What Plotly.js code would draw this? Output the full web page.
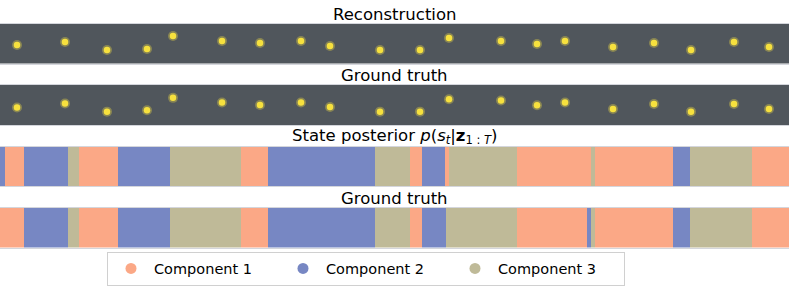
<!DOCTYPE html>
<html>
<head>
<meta charset="utf-8">
<script src="https://cdn.plot.ly/plotly-3.0.1.min.js"></script>
<style>html,body{margin:0;padding:0;background:#fff}#chart{width:789px;height:287px}</style>
</head>
<body>
<div id="chart"></div>
<script>
// ---- data ----
var componentNames = ["Component 1", "Component 2", "Component 3"];
var componentColors = ["#fba886", "#7787c3", "#bfba98"];

// ball positions along the frame strip (x) and vertical position from top (y)
var ballX = [17, 65, 107, 147, 173, 222, 260, 301, 330, 380, 420, 449, 501, 537, 565, 613, 654, 691, 734, 769];
var reconY = [21, 18, 26, 25, 12, 17, 19, 17, 22, 26, 26, 14, 17, 20, 17, 23, 19, 26, 18, 23];
var truthY = [22.3, 18.3, 26.3, 25, 12.7, 17.3, 19.7, 17.3, 21.7, 26.3, 26.3, 14, 15.3, 20, 17.3, 23.7, 18.7, 26.3, 18.7, 23.7];

// state segments: start, end, component (1..3)
var postStart = [0, 5, 24, 68, 79, 118, 170, 241, 268, 375, 410, 422, 445, 449, 517, 591, 595, 673, 690, 752];
var postEnd   = [5, 24, 68, 79, 118, 170, 241, 268, 375, 410, 422, 445, 449, 517, 591, 595, 673, 690, 752, 789];
var postState = [2, 1, 2, 3, 1, 2, 3, 1, 2, 3, 1, 2, 1, 3, 1, 3, 1, 2, 3, 1];

var truthStart = [0, 24, 68, 79, 118, 170, 241, 268, 375, 410, 422, 446, 517, 587, 591, 595, 673, 690, 752];
var truthEnd   = [24, 68, 79, 118, 170, 241, 268, 375, 410, 422, 446, 517, 587, 591, 595, 673, 690, 752, 789];
var truthState = [1, 2, 3, 1, 2, 3, 1, 2, 3, 1, 2, 3, 1, 2, 3, 1, 2, 3, 1];

var titles = ["Reconstruction", "Ground truth",
  "State posterior <i>p</i>(<i>s</i><sub><i>t</i></sub>|<b>z</b><sub>1 : <i>T</i></sub>)", "Ground truth"];

// ---- build ----
var H = 287, W = 789;
function dom(top, bottom) { return [1 - bottom / H, 1 - top / H]; }
var panels = [dom(24, 63.5), dom(85, 125), dom(146.5, 186), dom(208, 247.5)];
var titleY = [14, 75, 136, 198];

var traces = [];
function balls(ys, axi) {
  var xa = 'x' + (axi === 1 ? '' : axi), ya = 'y' + (axi === 1 ? '' : axi);
  traces.push({type: 'scatter', mode: 'markers', x: ballX, y: ys, xaxis: xa, yaxis: ya,
    marker: {size: 10, color: 'rgba(240,222,70,0.35)', line: {width: 0}}, showlegend: false, hoverinfo: 'skip'});
  traces.push({type: 'scatter', mode: 'markers', x: ballX, y: ys, xaxis: xa, yaxis: ya,
    marker: {size: 6.5, color: '#f7e13e', line: {width: 0}}, showlegend: false, hoverinfo: 'skip'});
}
balls(reconY, 1);
balls(truthY, 2);

function segs(starts, ends, states, axi) {
  traces.push({type: 'bar', orientation: 'h',
    base: starts, x: ends.map(function (e, i) { return e - starts[i]; }),
    y: starts.map(function () { return 0; }), width: 1,
    marker: {color: states.map(function (s) { return componentColors[s - 1]; }), line: {width: 0}},
    xaxis: 'x' + axi, yaxis: 'y' + axi, showlegend: false, hoverinfo: 'skip'});
}
segs(postStart, postEnd, postState, 3);
segs(truthStart, truthEnd, truthState, 4);

componentNames.forEach(function (n, i) {
  traces.push({type: 'scatter', mode: 'markers', x: [null], y: [null], name: n,
    marker: {size: 11, color: componentColors[i]}, showlegend: true});
});

var layout = {
  width: W, height: H, margin: {l: 0, r: 0, t: 0, b: 0},
  paper_bgcolor: '#ffffff', plot_bgcolor: 'rgba(0,0,0,0)',
  font: {family: 'DejaVu Sans', color: '#000'},
  barmode: 'overlay', bargap: 0,
  showlegend: true,
  legend: {orientation: 'h', x: 107 / W, xanchor: 'left', y: 1 - 251.5 / H, yanchor: 'top',
    bgcolor: '#ffffff', bordercolor: '#d0d0d0', borderwidth: 1,
    font: {size: 14.5, family: 'DejaVu Sans'}, entrywidth: 121, entrywidthmode: 'pixels', itemwidth: 36},
  annotations: [], shapes: []
};
for (var k = 1; k <= 4; k++) {
  var sfx = k === 1 ? '' : k;
  layout['xaxis' + sfx] = {domain: [0, 1], range: [0, W], anchor: 'y' + sfx,
    showgrid: false, zeroline: false, showticklabels: false, ticks: '',
    showline: true, mirror: true, linecolor: '#d4d6dc', linewidth: 1, fixedrange: true};
  layout['yaxis' + sfx] = {domain: panels[k - 1], anchor: 'x' + sfx,
    range: k <= 2 ? [39.5, 0] : [-0.5, 0.5],
    showgrid: false, zeroline: false, showticklabels: false, ticks: '', showline: false, fixedrange: true};
  layout.annotations.push({text: titles[k - 1], xref: 'paper', yref: 'paper', x: 0.5, y: 1 - titleY[k - 1] / H,
    xanchor: 'center', yanchor: 'middle', showarrow: false, font: {size: 16.5, family: 'DejaVu Sans', color: '#000'}});
  if (k <= 2) {
    layout.shapes.push({type: 'rect', xref: 'x' + sfx + ' domain', yref: 'y' + sfx + ' domain',
      x0: 0, x1: 1, y0: 0, y1: 1, fillcolor: '#50565c', line: {width: 0}, layer: 'below'});
  }
}
Plotly.newPlot('chart', traces, layout, {staticPlot: true, displayModeBar: false});
</script>
</body>
</html>
